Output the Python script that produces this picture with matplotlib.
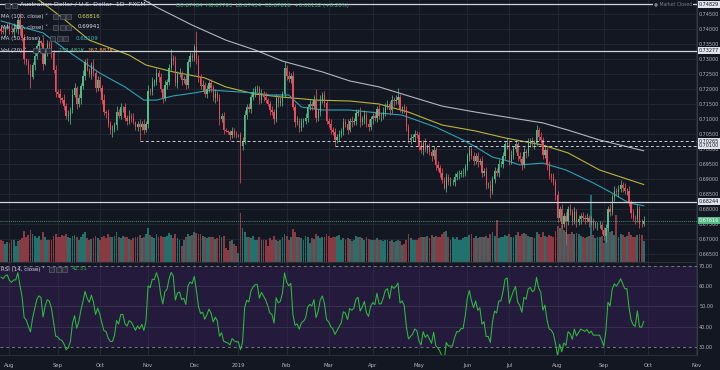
import numpy as np
import pandas as pd
import matplotlib
matplotlib.use("Agg")
import matplotlib.pyplot as plt
import matplotlib.transforms as mtransforms
from matplotlib.patches import Rectangle

# ---- data (AUD/USD daily, FXCM) ----
# closes in 1e-4 units, one list per month
jul18 = [7395, 7390, 7405, 7410]
aug18 = [7395, 7390, 7400, 7400, 7430, 7400, 7370, 7300, 7290, 7265, 7240, 7280,
         7310, 7345, 7360, 7355, 7285, 7325, 7350, 7345, 7320, 7265, 7190]
sep18 = [7185, 7170, 7165, 7145, 7110, 7115, 7130, 7180, 7205, 7150, 7170, 7210,
         7245, 7290, 7265, 7250, 7280, 7255, 7205, 7230]
oct18 = [7205, 7165, 7125, 7120, 7085, 7065, 7065, 7080, 7125, 7110, 7140, 7140,
         7105, 7095, 7110, 7105, 7090, 7075, 7085, 7075, 7085, 7065, 7085]
nov18 = [7195, 7190, 7225, 7225, 7255, 7240, 7200, 7170, 7215, 7225, 7270, 7305,
         7295, 7220, 7250, 7255, 7230, 7235, 7215, 7290, 7310, 7305]
dec18 = [7340, 7300, 7240, 7210, 7215, 7185, 7200, 7220, 7205, 7170, 7185, 7170,
         7100, 7110, 7065, 7060, 7055, 7045, 7060, 7050, 7045]
jan19 = [7045, 7010, 7025, 7115, 7140, 7135, 7175, 7190, 7200, 7200, 7165, 7185,
         7175, 7165, 7150, 7130, 7125, 7100, 7170, 7155, 7160, 7185, 7270]
feb19 = [7245, 7235, 7245, 7140, 7090, 7095, 7070, 7090, 7095, 7105, 7140, 7150,
         7145, 7165, 7105, 7125, 7165, 7180, 7155, 7095]
mar19 = [7085, 7065, 7055, 7030, 7040, 7050, 7060, 7090, 7085, 7065, 7095, 7090,
         7095, 7120, 7125, 7090, 7100, 7115, 7085, 7075, 7100]
apr19 = [7110, 7105, 7135, 7110, 7110, 7125, 7145, 7150, 7130, 7165, 7160, 7165,
         7175, 7135, 7140, 7130, 7075, 7030, 7035, 7040, 7050, 7045]
may19 = [7010, 6995, 7020, 7000, 7005, 6990, 6975, 6995, 6945, 6935, 6920, 6895,
         6870, 6905, 6890, 6890, 6890, 6905, 6915, 6915, 6920, 6920, 6940]
jun19 = [6975, 6995, 6975, 6960, 6975, 6955, 6960, 6920, 6925, 6880, 6880, 6860,
         6900, 6925, 6920, 6950, 6950, 6975, 7015, 7020]
jul19 = [6960, 6980, 7000, 7015, 6975, 6965, 6945, 6990, 6985, 7020, 7025, 7015,
         7020, 7065, 7040, 7030, 6980, 6995, 6945, 6910, 6905, 6890, 6845]
aug19 = [6770, 6800, 6750, 6775, 6760, 6800, 6790, 6760, 6790, 6755, 6765, 6775,
         6770, 6765, 6770, 6755, 6760, 6745, 6745, 6745, 6745, 6730]
sep19 = [6710, 6735, 6800, 6790, 6840, 6860, 6855, 6865, 6880, 6870, 6860, 6860,
         6820, 6785, 6770, 6765, 6800, 6750, 6748.4, 6761.6]
first_open = 7400
# a few closes before the window, only used to warm up the RSI
prior_closes = [7405, 7435, 7455, 7420, 7380, 7405, 7395, 7425, 7410, 7385,
                7350, 7400, 7390, 7410, 7455]

# wick lengths in 0.0005 steps (base-36 digits), upper and lower
up_wicks = ("2312" "32432513124232314232323" "23142324313242312423"
            "32413232423132423123232" "4232323132362323123232"
            "2b3232323232323112322" "12332323232323123232325"
            "23232323232323723232" "232323232323232323232"
            "2323232323236212323232" "23232323232323232323232"
            "23232323232323232323" "23232323232323232323232"
            "3232323232323232323232" "23232323323232323233")
dn_wicks = ("2131" "21323423237132324132323" "23232362132423123232"
            "23232352312323231239232" "3223232323213232323232"
            "233232323232423113222" "1p323232323232132323232"
            "32323232323232323232" "232423232323232323232"
            "3232323232323232323232" "32323232323213232323232"
            "23232323232523232323" "32323232323232323232323"
            "3232g32323232323232323" "34232323232323232321")

# volume, thousands
vol = [150, 140, 120, 135,
       130, 145, 150, 110, 140, 145, 160, 205, 170, 180, 215, 190, 175, 160, 175, 150, 200, 165, 150, 145, 150, 175, 190,
       170, 165, 180, 175, 190, 170, 160, 175, 180, 165, 150, 170, 185, 200, 160, 150, 155, 160, 175, 160,
       150, 170, 175, 160, 185, 170, 165, 175, 200, 165, 160, 175, 165, 170, 155, 150, 160, 165, 170, 180, 160, 170, 185,
       230, 180, 165, 160, 185, 170, 175, 165, 170, 175, 195, 180, 160, 185, 160, 150, 110, 150, 165, 185, 175, 180,
       200, 195, 185, 190, 175, 165, 160, 170, 165, 170, 155, 160, 180, 170, 175, 95, 80, 140, 150, 120, 110,
       60, 330, 230, 200, 170, 165, 160, 175, 150, 150, 165, 150, 150, 145, 110, 160, 150, 175, 150, 140, 145, 170, 190,
       175, 150, 165, 220, 200, 170, 165, 160, 150, 175, 165, 130, 160, 155, 190, 175, 160, 165, 165, 185,
       175, 160, 165, 170, 175, 180, 150, 160, 150, 160, 155, 140, 150, 175, 165, 170, 160, 150, 165, 155, 150,
       145, 150, 160, 150, 145, 140, 145, 150, 140, 150, 135, 140, 145, 140, 115, 120, 150, 185, 160, 150, 145, 150,
       160, 165, 170, 165, 175, 160, 180, 170, 175, 165, 170, 190, 200, 210, 165, 150, 165, 155, 170, 145, 150, 160, 165,
       170, 180, 190, 160, 175, 160, 165, 170, 165, 175, 160, 185, 200, 175, 280, 160, 165, 170, 180, 175,
       190, 170, 165, 180, 200, 175, 185, 195, 185, 175, 165, 170, 160, 200, 190, 165, 200, 175, 170, 180, 175, 165, 210,
       240, 230, 250, 215, 200, 190, 185, 200, 190, 195, 190, 175, 165, 160, 165, 175, 450, 180, 160, 165, 170, 175,
       130, 175, 230, 200, 205, 180, 315, 170, 185, 180, 170, 175, 200, 180, 170, 165, 180, 185, 180, 137]

# moving averages
ma50_dates = ['2018-07-26', '2018-08-23', '2018-09-07', '2018-10-01', '2018-10-17', '2018-10-30',
              '2018-11-07', '2018-11-19', '2018-12-03', '2018-12-13', '2018-12-24', '2019-01-11',
              '2019-01-22', '2019-02-04', '2019-02-12', '2019-02-26', '2019-03-15', '2019-04-04',
              '2019-04-19', '2019-05-13', '2019-05-30', '2019-06-07', '2019-06-19', '2019-06-27',
              '2019-07-08', '2019-07-23', '2019-08-07', '2019-08-26', '2019-09-06', '2019-09-18',
              '2019-09-27']
ma50_vals = [0.7427, 0.7387, 0.7330, 0.7253, 0.7207, 0.7163, 0.7163, 0.7177, 0.7187, 0.7197,
             0.7193, 0.7187, 0.7180, 0.7180, 0.7140, 0.7130, 0.7130, 0.7120, 0.7113, 0.7073,
             0.7030, 0.7007, 0.6973, 0.6963, 0.6947, 0.6953, 0.6930, 0.6887, 0.6853, 0.6820,
             0.68109]
ma100_dates = ['2018-08-09', '2018-08-21', '2018-09-06', '2018-09-24', '2018-10-19', '2018-10-31',
               '2018-11-19', '2018-12-10', '2018-12-24', '2019-01-11', '2019-01-30', '2019-02-21',
               '2019-03-15', '2019-04-04', '2019-04-24', '2019-05-16', '2019-06-07', '2019-06-27',
               '2019-07-23', '2019-08-08', '2019-08-29', '2019-09-27']
ma100_vals = [0.7510, 0.7497, 0.7433, 0.7363, 0.7313, 0.7280, 0.7257, 0.7237, 0.7207, 0.7183,
              0.7173, 0.7163, 0.7160, 0.7150, 0.7123, 0.7080, 0.7060, 0.7037, 0.7013, 0.6987,
              0.6930, 0.68816]
ma200_dates = ['2018-10-24', '2018-10-30', '2018-11-07', '2018-11-30', '2018-12-24', '2019-01-11',
               '2019-01-30', '2019-02-26', '2019-03-15', '2019-04-04', '2019-04-24', '2019-05-16',
               '2019-06-07', '2019-06-27', '2019-07-23', '2019-08-08', '2019-08-29', '2019-09-27']
ma200_vals = [0.7525, 0.7497, 0.7473, 0.7413, 0.7363, 0.7330, 0.7293, 0.7257, 0.7227, 0.7207,
              0.7177, 0.7143, 0.7123, 0.7107, 0.7087, 0.7063, 0.7030, 0.69941]

# drawn levels
solid_levels = [0.74829, 0.73277, 0.68244]
dashed_levels = [0.70265, 0.70100]
dashed_from = ['2018-10-26', '2019-03-06']
last_price = 0.67616
price_ticks = np.arange(0.665, 0.7451, 0.005)
rsi_ticks = [30, 40, 50, 60, 70]

# ---- prep ----
dates = pd.bdate_range('2018-07-26', '2019-09-27')
closes = np.array(jul18 + aug18 + sep18 + oct18 + nov18 + dec18 + jan19 + feb19 +
                  mar19 + apr19 + may19 + jun19 + jul19 + aug19 + sep19) / 1e4
n = len(dates)
assert len(closes) == n and len(vol) == n, (len(closes), len(vol), n)
assert len(up_wicks) == n and len(dn_wicks) == n, (len(up_wicks), len(dn_wicks))

opens = np.r_[first_open / 1e4, closes[:-1]]
ups = np.array([int(ch, 36) for ch in up_wicks]) * 0.0005
dns = np.array([int(ch, 36) for ch in dn_wicks]) * 0.0005
highs = np.maximum(opens, closes) + ups
lows = np.minimum(opens, closes) - dns
x = np.arange(n)
rising = closes >= opens


def pos(ds):
    return dates.get_indexer(pd.to_datetime(ds))


s = pd.Series(np.r_[np.array(prior_closes) / 1e4, closes])
d = s.diff()
g = d.clip(lower=0).ewm(alpha=1 / 14, adjust=False).mean()
l_ = (-d.clip(upper=0)).ewm(alpha=1 / 14, adjust=False).mean()
rsi = (100 - 100 / (1 + g / l_)).values[-n:]

full = pd.bdate_range('2018-07-26', '2019-11-29')
month_pos, month_lab = [], []
for i, dt in enumerate(full):
    if i > 0 and dt.month != full[i - 1].month:
        month_pos.append(i)
        month_lab.append('2019' if (dt.month == 1) else dt.strftime('%b'))

# ---- style ----
BG = '#131722'
GRID = '#222733'
TXT = '#b2b5be'
UP, DN = '#53b987', '#eb4d5c'
W, H = 720, 370
XMAX = 331.4
FS_AX = 3.5


def box(x0, y0, x1, y1):
    return [x0 / W, 1 - y1 / H, (x1 - x0) / W, (y1 - y0) / H]


fig = plt.figure(figsize=(7.2, 3.7), dpi=100, facecolor=BG)
ax = fig.add_axes(box(0, 0, 697, 262), facecolor=BG)
axr = fig.add_axes(box(0, 263, 697, 355), facecolor=BG, sharex=ax)

# price pane
ax.set_xlim(-0.5, XMAX)
ax.set_ylim(0.66233, 0.74967)
for p in month_pos:
    ax.axvline(p, color=GRID, lw=0.7, zorder=0)
for t in price_ticks:
    ax.axhline(t, color=GRID, lw=0.7, zorder=0)

vtrans = mtransforms.blended_transform_factory(ax.transData, ax.transAxes)
ax.bar(x, np.array(vol) / 1750.0, bottom=0, width=0.9, transform=vtrans,
       color=np.where(rising, '#22716c', '#8a3a43'), lw=0, zorder=1)

ax.plot(pos(ma200_dates), ma200_vals, color='#b2b5be', lw=0.8, zorder=2)
ax.plot(pos(ma100_dates), ma100_vals, color='#b9b43a', lw=0.8, zorder=2)
ax.plot(pos(ma50_dates), ma50_vals, color='#2aa3b4', lw=0.8, zorder=2)

ccol = np.where(rising, UP, DN)
ax.vlines(x, lows, highs, colors=ccol, lw=0.55, zorder=3)
ax.bar(x, np.maximum(np.abs(closes - opens), 0.00008), bottom=np.minimum(opens, closes),
       width=0.62, color=ccol, lw=0, zorder=3)

for lv in solid_levels:
    ax.axhline(lv, color='#d1d4dc', lw=0.9, zorder=4)
for lv, d0 in zip(dashed_levels, dashed_from):
    ax.hlines(lv, pos([d0])[0], XMAX, color='#c8cbd3', lw=0.7, linestyles=(0, (3, 2.5)), zorder=4)
ax.axhline(last_price, color=UP, lw=0.6, ls=(0, (1, 1.5)), zorder=4)

ax.yaxis.tick_right()
ax.set_yticks(price_ticks)
ax.set_yticklabels(['%.5f' % t for t in price_ticks])
ax.tick_params(axis='y', length=0, pad=1.5, labelsize=FS_AX, labelcolor=TXT)
ax.tick_params(axis='x', length=0, labelbottom=False)
for side in ['top', 'left']:
    ax.spines[side].set_visible(False)
ax.spines['right'].set_color('#363a45')
ax.spines['bottom'].set_color('#2a2e39')

ltrans = mtransforms.blended_transform_factory(ax.transAxes, ax.transData)
for lv in solid_levels + dashed_levels:
    ax.text(1.0025, lv, '%.5f' % lv, transform=ltrans, va='center', ha='left', fontsize=FS_AX,
            color='#131722', clip_on=False, zorder=6,
            bbox=dict(boxstyle='square,pad=0.2', fc='#e0e3eb', ec='none'))
ax.text(1.0025, last_price, '%.5f' % last_price, transform=ltrans, va='center', ha='left',
        fontsize=FS_AX, color='white', clip_on=False, zorder=6,
        bbox=dict(boxstyle='square,pad=0.2', fc=UP, ec='none'))

# rsi pane
axr.set_ylim(26, 71.5)
axr.axhspan(30, 70, color='#241a3c', lw=0, zorder=0)
for p in month_pos:
    axr.axvline(p, color='#2a2840', lw=0.7, zorder=0.5)
for t in [40, 50, 60]:
    axr.axhline(t, color='#3a3452', lw=0.6, zorder=0.5)
for t in [30, 70]:
    axr.axhline(t, color='#787b86', lw=0.7, ls=(0, (3, 3)), zorder=1)
axr.plot(x, rsi, color='#2dbd3c', lw=0.75, zorder=3)
axr.yaxis.tick_right()
axr.set_yticks(rsi_ticks)
axr.set_yticklabels(['%.2f' % t for t in rsi_ticks])
axr.set_xticks(month_pos)
axr.set_xticklabels(month_lab)
axr.tick_params(axis='y', length=0, pad=1.5, labelsize=FS_AX, labelcolor=TXT)
axr.tick_params(axis='x', length=0, pad=6, labelsize=3.8, labelcolor=TXT)
for side in ['top', 'left']:
    axr.spines[side].set_visible(False)
axr.spines['right'].set_color('#363a45')
axr.spines['bottom'].set_color('#2a2e39')


# ---- legend texts ----
def ftxt(px, py, s, **kw):
    fig.text(px / W, 1 - py / H, s, va='center', **kw)


def icons(px, py, count=3):
    for k in range(count):
        fig.add_artist(Rectangle(((px + 6.5 * k) / W, 1 - (py + 2.5) / H), 5 / W, 5 / H,
                                 transform=fig.transFigure, fc='#2a2e39', ec='#6a6d78', lw=0.4))


icons(5, 5, 2)
ftxt(20, 5, 'Australian Dollar / U.S. Dollar  1D  FXCM \u02c5', fontsize=4.5, color='#d1d4dc')
ftxt(176, 5, 'O0.67484  H0.67793  L0.67434  C0.67616  +0.00132 (+0.20%)', fontsize=3.9, color=UP)
ftxt(692, 4, '\u25cf Market Closed', fontsize=3.3, color='#787b86', ha='right',
     bbox=dict(boxstyle='square,pad=0.2', fc=BG, ec='none'))

ftxt(1, 16, 'MA (100, close) \u02c5', fontsize=4.0, color='#d1d4dc')
icons(53, 16)
ftxt(78, 16, '0.68816', fontsize=4.0, color='#d8d34a')
ftxt(1, 27, 'MA (200, close) \u02c5', fontsize=4.0, color='#d1d4dc')
icons(53, 27)
ftxt(78, 27, '0.69941', fontsize=4.0, color='#e0e3eb')
ftxt(1, 38, 'MA (50, close) \u02c5', fontsize=4.0, color='#d1d4dc')
icons(50, 38)
ftxt(76, 38, '0.68109', fontsize=4.0, color='#36b6c8')
ftxt(1, 50, 'Vol (20) \u02c5', fontsize=4.0, color='#d1d4dc')
icons(33, 50)
ftxt(58, 50, '137.481K', fontsize=4.0, color=UP)
ftxt(87, 50, '167.887K', fontsize=4.0, color='#f0a050')

ftxt(1, 269, 'RSI (14, close) \u02c5', fontsize=4.0, color='#d1d4dc')
icons(49, 269)
ftxt(72, 269, '42.31', fontsize=4.0, color='#2dbd3c')

fig.savefig('out.png', dpi=100, facecolor=BG)
